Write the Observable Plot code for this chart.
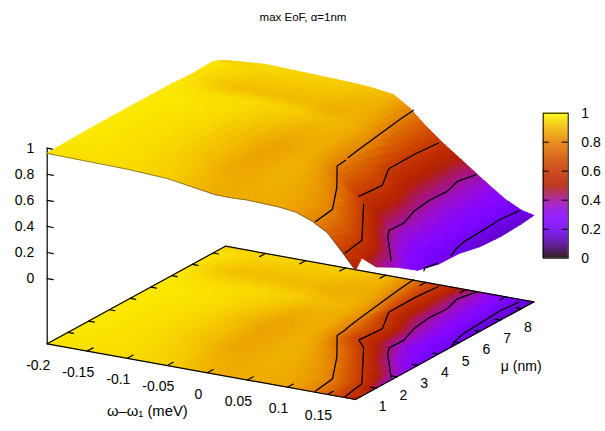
<!DOCTYPE html>
<html><head><meta charset="utf-8">
<style>html,body{margin:0;padding:0;background:#fff}#c{position:relative;width:605px;height:431px;overflow:hidden}#c svg{position:absolute;left:0;top:0;background:transparent}</style>
<script src="https://cdn.jsdelivr.net/npm/d3@7"></script>
<script src="https://cdn.jsdelivr.net/npm/@observablehq/plot@0.6"></script>
</head><body><div id="c"></div>
<script>
const titleText = "max EoF, α=1nm";
const omegaLabel = "ω–ω₁ (meV)";
const muLabel = "μ (nm)";
const omegaTicks = [-0.2,-0.15,-0.1,-0.05,0,0.05,0.1,0.15];
const muTicks = [1,2,3,4,5,6,7,8];
const zTicks = [0,0.2,0.4,0.6,0.8,1];
const omegas = [-0.2,-0.15,-0.1,-0.05,-0.02,0.01,0.03,0.05,0.07,0.09,0.11,0.13,0.15,0.17,0.185];
const mus = [0,0.3,1,2,3,4,5,6,7,8,8.6];
const zMu0 = [.96,.955,.95,.934,.905,.876,.875,.88,.875,.87,.855,.81,.74,.60,.49];
const zMu03 = [.962,.957,.95,.93,.90,.874,.875,.88,.875,.87,.85,.805,.73,.60,.56];
const zMu1 = [.965,.96,.95,.925,.885,.87,.875,.88,.875,.865,.84,.795,.69,.56,.43];
const zMu2 = [.97,.96,.945,.905,.865,.87,.88,.885,.87,.84,.79,.67,.556,.444,.34];
const zMu3 = [.97,.96,.945,.90,.86,.87,.885,.875,.83,.765,.64,.515,.39,.29,.23];
const zMu4 = [.97,.96,.945,.895,.855,.87,.88,.835,.71,.58,.49,.39,.30,.23,.19];
const zMu5 = [.97,.965,.95,.91,.875,.88,.875,.81,.70,.595,.48,.375,.30,.225,.185];
const zMu6 = [.97,.95,.95,.935,.91,.895,.87,.815,.60,.51,.42,.35,.28,.205,.15];
const zMu7 = [.96,.905,.905,.895,.875,.88,.86,.74,.585,.50,.41,.34,.27,.20,.14];
const zMu8 = [.968,.935,.925,.92,.905,.885,.83,.71,.59,.50,.395,.335,.265,.20,.15];
const zMu86 = [.925,.95,.94,.93,.92,.895,.815,.70,.60,.51,.42,.33,.245,.185,.163];
const zRows = [zMu0,zMu03,zMu1,zMu2,zMu3,zMu4,zMu5,zMu6,zMu7,zMu8,zMu86];
// contour lines as [omega, mu]
const contour08a = [[.034,8.63],[.037,7.87],[.05,5.39],[.054,4.7]];
const contour08b = [[.056,4.5],[.058,4.02],[.095,2.575],[.128,1.09],[.133,.07]];
const contour06a = [[.069,8.48],[.066,7.5],[.0665,6.18],[.089,5.0],[.086,3.99]];
const contour06b = [[.104,3.52],[.164,1.12],[.17,.08]];
const contour04 = [[.114,8.54],[.108,7.89],[.1155,7.11],[.114,6.29],[.1185,5.38],[.129,4.49],[.128,3.82],[.137,3.41],[.181,1.87]];
const contour02a = [[.1715,8.4],[.1685,7.63],[.171,6.64],[.173,5.69],[.178,5.1],[.185,4.61]];
const contour02b = [[.185,3.3],[.181,3.5],[.185,3.95]];

const zBase = -0.5, K = 130.4, X0 = 46.7, Y0 = 343.3, wmin = -0.2;
const projection = d3.geoTransform({point(w, m, z = zBase) {
  const a = w - wmin;
  this.stream.point(X0 + a*800.8 + m*20.73, Y0 + a*144.7 - m*11.35 - (z - zBase)*K);
}});
const palette = t => {
  const c = v => Math.round(255*Math.max(0, Math.min(1, v)));
  return `rgb(${c(Math.sqrt(t))},${c(t*t*t)},${c(Math.sin(2*Math.PI*t))})`;
};
const color = {type:"linear", domain:[0,1], interpolate:palette};

const N = 4, baseCells = [], surfCells = [];
const at = (i,j,s,t) => (zRows[j][i]*(1-s)*(1-t) + zRows[j][i+1]*s*(1-t) + zRows[j+1][i]*(1-s)*t + zRows[j+1][i+1]*s*t);
for (let j = mus.length-2; j >= 0; j--) for (let tn = N-1; tn >= 0; tn--)
for (let i = 0; i < omegas.length-1; i++) for (let sn = 0; sn < N; sn++) {
  const s0=sn/N, s1=(sn+1)/N, t0=tn/N, t1=(tn+1)/N;
  const W = s => omegas[i] + (omegas[i+1]-omegas[i])*s, M = t => mus[j] + (mus[j+1]-mus[j])*t;
  const corners = [[s0,t0],[s1,t0],[s1,t1],[s0,t1],[s0,t0]];
  const v = at(i,j,(s0+s1)/2,(t0+t1)/2);
  baseCells.push({type:"Feature",properties:{v},geometry:{type:"Polygon",coordinates:[corners.map(([s,t])=>[W(s),M(t)])]}});
  surfCells.push({type:"Feature",properties:{v},geometry:{type:"Polygon",coordinates:[corners.map(([s,t])=>[W(s),M(t),at(i,j,s,t)])]}});
}
const ls = coords => ({type:"Feature",properties:{},geometry:{type:"LineString",coordinates:coords}});
const wEnd = omegas[omegas.length-1], mEnd = mus[mus.length-1];
const frame = [
  ls([[wmin,0],[wEnd,0]]), ls([[wmin,0],[wmin,mEnd]]), ls([[wmin,mEnd],[wEnd,mEnd]]), ls([[wEnd,0],[wEnd,mEnd]]),
  ls([[wmin,0,zBase],[wmin,0,1]]),
  ...omegaTicks.slice(1).flatMap(w=>[ls([[w,0],[w,.28]]),ls([[w,mEnd],[w,mEnd-.28]])]),
  ...muTicks.flatMap(m=>[ls([[wmin,m],[wmin+.007,m]]),ls([[wEnd,m],[wEnd-.007,m]])]),
];
const zTickLines = zTicks.map(z=>ls([[wmin,0,z],[wmin+.0075,0,z]]));
const baseContours = [[...contour08a,...contour08b],[...contour06a,...contour06b],contour04,contour02a].map(c=>ls(c));
const at3 = (c,z)=>ls(c.map(p=>[p[0],p[1],z]));
const surfContours = [at3(contour08a,.8),at3(contour08b,.8),at3(contour06a,.6),at3(contour06b,.6),at3(contour04,.4),at3(contour02a,.2),at3(contour02b,.2)];
const frontEdge = ls(omegas.map((w,i)=>[w,0,zMu0[i]]));
const font = {fontFamily:"Liberation Sans, Arial, sans-serif", fill:"#000"};
const fs = 14;
const main = Plot.plot({
  width:605, height:431, margin:0, projection, color,
  marks:[
    Plot.geo(baseCells,{fill:d=>d.properties.v,stroke:d=>d.properties.v,strokeWidth:.9}),
    Plot.geo(baseContours,{stroke:"#000",strokeWidth:1.3}),
    Plot.geo(frame,{stroke:"#000",strokeWidth:1.2}),
    Plot.geo(zTickLines,{stroke:"#000",strokeWidth:1.2}),
    Plot.geo(surfCells,{fill:d=>d.properties.v,stroke:d=>d.properties.v,strokeWidth:.9}),
    Plot.geo([frontEdge],{stroke:"#444",strokeWidth:.6}),
    Plot.geo(surfContours,{stroke:"#000",strokeWidth:1.3}),
    Plot.text(omegaTicks,{x:d=>d,y:()=>0,text:d=>String(d),dx:-9,dy:21.5,fontSize:fs,...font}),
    Plot.text(muTicks,{x:()=>wEnd,y:d=>d,text:d=>String(d),dx:6.5,dy:18.5,fontSize:fs,...font}),
    ...zTicks.map(z=>Plot.text([z],{x:()=>wmin,y:()=>0,text:d=>String(d),dx:-13,dy:-(z-zBase)*K,textAnchor:"end",fontSize:fs,...font})),
    Plot.text([omegaLabel],{x:()=>0,y:()=>0,text:d=>d,dx:-60,dy:39,fontSize:14.8,...font}),
    Plot.text([muLabel],{x:()=>wEnd,y:()=>0,text:d=>d,dx:165.7,dy:-33,fontSize:14,...font}),
    Plot.text([titleText],{frameAnchor:"top",dy:12,text:d=>d,fontSize:11.5,...font}),
  ]
});
const bar = Plot.plot({
  width:605, height:431, marginLeft:542.7, marginRight:37.3, marginTop:112.7, marginBottom:173.3,
  x:{domain:[0,1],axis:null}, y:{domain:[0,1],axis:null}, color,
  marks:[
    Plot.rect(d3.range(0,1,1/145),{x1:()=>0,x2:()=>1,y1:d=>d,y2:d=>d+1/145+.002,fill:d=>d+.5/145}),
    Plot.frame({stroke:"#000",strokeWidth:1}),
    Plot.ruleY(zTicks.slice(1,-1),{y:d=>d,x1:()=>0,x2:()=>.24,stroke:"#000"}),
    Plot.ruleY(zTicks.slice(1,-1),{y:d=>d,x1:()=>.76,x2:()=>1,stroke:"#000"}),
    Plot.axisY(zTicks,{anchor:"right",tickSize:0,tickPadding:13,tickFormat:d=>String(d),fontSize:fs,fontFamily:font.fontFamily,fill:"#000",label:null}),
  ]
});
document.getElementById("c").append(main,bar);
</script></body></html>
